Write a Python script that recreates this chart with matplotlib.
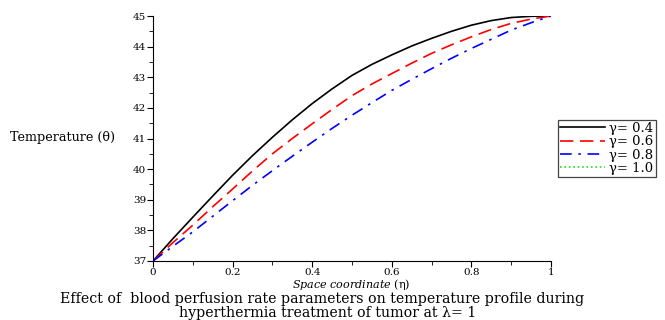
import matplotlib
matplotlib.use('Agg')
import matplotlib.pyplot as plt
from matplotlib.ticker import MultipleLocator, FuncFormatter

eta = [0.0, 0.05, 0.1, 0.15, 0.2, 0.25, 0.3, 0.35, 0.4, 0.45, 0.5,
       0.55, 0.6, 0.65, 0.7, 0.75, 0.8, 0.85, 0.9, 0.95, 1.0]
theta_04 = [37.0, 37.73, 38.43, 39.12, 39.8, 40.44, 41.04, 41.61, 42.14, 42.62, 43.06,
            43.42, 43.73, 44.02, 44.27, 44.5, 44.7, 44.85, 44.95, 44.99, 45.0]
theta_06 = [37.0, 37.6, 38.17, 38.77, 39.35, 39.94, 40.5, 41.0, 41.48, 41.95, 42.4,
            42.78, 43.12, 43.46, 43.78, 44.06, 44.32, 44.56, 44.76, 44.9, 45.0]
theta_08 = [37.0, 37.48, 37.95, 38.46, 38.97, 39.47, 39.95, 40.42, 40.88, 41.33, 41.76,
            42.17, 42.57, 42.93, 43.28, 43.62, 43.94, 44.24, 44.54, 44.78, 45.0]
labels = ['γ= 0.4', 'γ= 0.6', 'γ= 0.8', 'γ= 1.0']

plt.rcParams['font.family'] = ['DejaVu Serif']
plt.rcParams['mathtext.fontset'] = 'dejavuserif'

fig = plt.figure(figsize=(6.65, 3.2), dpi=100)
ax = fig.add_axes([153/665, 1-261/320, (551-153)/665, (261-16)/320])

l1, = ax.plot(eta, theta_04, color='black', lw=1.2)
l2, = ax.plot(eta, theta_06, color='red', lw=1.2, dashes=(8, 4))
l3, = ax.plot(eta, theta_08, color='blue', lw=1.2, dashes=(7, 4, 1.5, 4))
l4, = ax.plot([], [], color='#22dd22', lw=1.2, ls=':')

ax.set_xlim(0, 1)
ax.set_ylim(37, 45)
ax.spines['top'].set_visible(False)
ax.spines['right'].set_visible(False)
ax.xaxis.set_major_locator(MultipleLocator(0.2))
ax.xaxis.set_minor_locator(MultipleLocator(0.1))
ax.yaxis.set_major_locator(MultipleLocator(1))
ax.yaxis.set_minor_locator(MultipleLocator(0.5))
ax.xaxis.set_major_formatter(FuncFormatter(lambda v, p: f'{v:g}'))
ax.tick_params(which='major', length=4, labelsize=7.5, pad=1)
ax.tick_params(which='minor', length=3)

fig.text(10/665, 1-138/320, 'Temperature (θ)', fontsize=9.2, ha='left', va='center')
fig.text(351/665, 1-284.5/320, r'$\mathit{Space\ coordinate}$ (η)', fontsize=8,
         ha='center', va='center')
fig.text(322/665, 1-299.5/320,
         'Effect of  blood perfusion rate parameters on temperature profile during',
         fontsize=10.2, ha='center', va='center')
fig.text(328/665, 1-313.5/320, 'hyperthermia treatment of tumor at λ= 1',
         fontsize=10.2, ha='center', va='center')

leg = fig.legend([l1, l2, l3, l4], labels, loc='upper left',
                 bbox_to_anchor=(558/665, 1-120/320), fontsize=9.5,
                 fancybox=False, framealpha=1, edgecolor='#444444',
                 handlelength=3.4, handletextpad=0.35, borderpad=0.15,
                 labelspacing=0.02, borderaxespad=0)
leg.get_frame().set_linewidth(0.9)

fig.savefig('out.png', dpi=100)
